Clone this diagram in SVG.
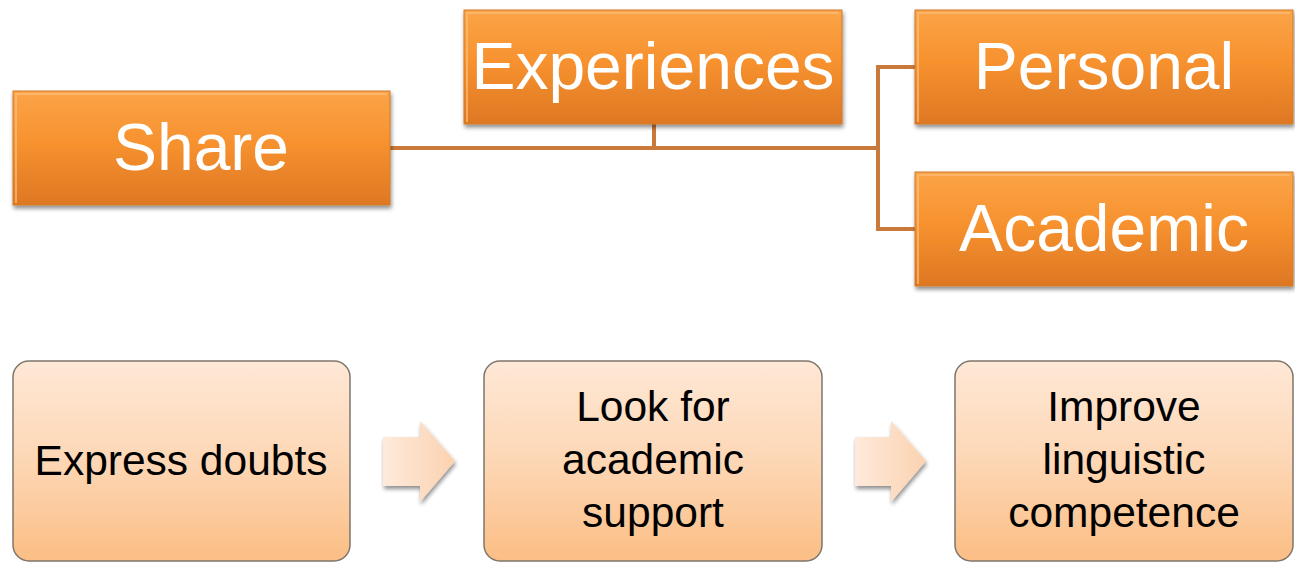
<svg xmlns="http://www.w3.org/2000/svg" width="1295" height="563" viewBox="0 0 1295 563">
<defs>
<linearGradient id="og" x1="0" y1="0" x2="0" y2="1">
<stop offset="0" stop-color="#FBA448"/>
<stop offset="0.45" stop-color="#F7922F"/>
<stop offset="1" stop-color="#DE7723"/>
</linearGradient>
<linearGradient id="pg" x1="0" y1="0" x2="0" y2="1">
<stop offset="0" stop-color="#FEE8D6"/>
<stop offset="0.5" stop-color="#FDD7B5"/>
<stop offset="1" stop-color="#FBBE85"/>
</linearGradient>
<linearGradient id="ag" x1="0" y1="0" x2="1" y2="0">
<stop offset="0" stop-color="#FEEADB"/>
<stop offset="1" stop-color="#FBD2B0"/>
</linearGradient>
<filter id="sh" x="-5%" y="-10%" width="110%" height="130%">
<feGaussianBlur in="SourceAlpha" stdDeviation="2"/>
<feOffset dx="1" dy="3" result="b"/>
<feComponentTransfer><feFuncA type="linear" slope="0.45"/></feComponentTransfer>
<feMerge><feMergeNode/><feMergeNode in="SourceGraphic"/></feMerge>
</filter>
</defs>
<style>
.ob{fill:url(#og);stroke:#D27A2C;stroke-width:1;filter:url(#sh)}
.bev{fill:none;stroke:#FDBE78;stroke-width:2;opacity:0.7}
.ot{font-family:"Liberation Sans",Arial,sans-serif;font-size:66px;fill:#FFFFFF;text-anchor:middle}
.pb{fill:url(#pg);stroke:#7E766C;stroke-width:1.5}
.pt{font-family:"Liberation Sans",Arial,sans-serif;font-size:42.5px;fill:#000000;text-anchor:middle}
.con{fill:none;stroke:#C97A3A;stroke-width:4}
.arr{fill:url(#ag);filter:url(#sh)}
</style>
<g id="connectors">
<path class="con" d="M390 148 H878"/>
<path class="con" d="M654 124 V148"/>
<path class="con" d="M916 67 H878 V229 H916"/>
</g>
<g id="share">
<rect class="ob" x="13" y="91" width="377" height="114"/>
<path class="bev" d="M16 203 V94 H387"/>
<text class="ot" x="201" y="170">Share</text>
</g>
<g id="experiences">
<rect class="ob" x="464" y="10" width="378" height="114"/>
<path class="bev" d="M467 122 V13 H839"/>
<text class="ot" x="653" y="89">Experiences</text>
</g>
<g id="personal">
<rect class="ob" x="915" y="10" width="378" height="114"/>
<path class="bev" d="M918 122 V13 H1290"/>
<text class="ot" x="1104" y="89">Personal</text>
</g>
<g id="academic">
<rect class="ob" x="915" y="172" width="378" height="114"/>
<path class="bev" d="M918 284 V175 H1290"/>
<text class="ot" x="1104" y="251">Academic</text>
</g>
<g id="express">
<rect class="pb" x="13" y="361" width="337" height="200" rx="16"/>
<text class="pt" x="181" y="475">Express doubts</text>
</g>
<g id="arrow1">
<path class="arr" d="M383 437 H420 V421 L455 461 L420 502 V486 H383 Z"/>
</g>
<g id="lookfor">
<rect class="pb" x="484" y="361" width="338" height="200" rx="16"/>
<text class="pt" x="653" y="421">Look for</text>
<text class="pt" x="653" y="474">academic</text>
<text class="pt" x="653" y="527">support</text>
</g>
<g id="arrow2">
<path class="arr" d="M855 437 H891 V421 L926 461 L891 502 V486 H855 Z"/>
</g>
<g id="improve">
<rect class="pb" x="955" y="361" width="338" height="200" rx="16"/>
<text class="pt" x="1124" y="421">Improve</text>
<text class="pt" x="1124" y="474">linguistic</text>
<text class="pt" x="1124" y="527">competence</text>
</g>
</svg>
